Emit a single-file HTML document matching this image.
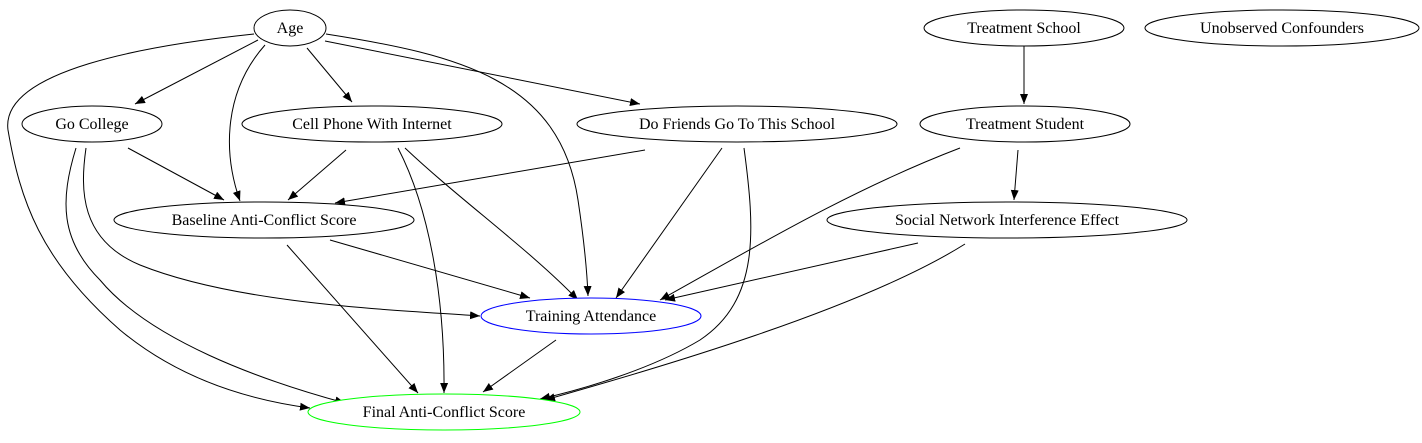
<!DOCTYPE html>
<html><head><meta charset="utf-8"><style>
html,body{margin:0;padding:0;background:#fff;}
svg{display:block;}
text{font-family:"Liberation Serif",serif;font-size:16px;text-anchor:middle;fill:#000;}
</style></head><body>
<svg width="1422" height="443" viewBox="0 0 1422 443" xmlns="http://www.w3.org/2000/svg">
<defs>
<marker id="a" markerUnits="userSpaceOnUse" markerWidth="12" markerHeight="10" refX="10" refY="4" orient="auto">
<path d="M0,0 L10,4 L0,8 Z" fill="#000"/>
</marker>
</defs>
<g fill="none" stroke="#000" stroke-width="1" marker-end="url(#a)">
<path d="M258,40 L135,104"/>
<path d="M307,48 L352,102"/>
<path d="M265,45 C225,90 222,150 240,201"/>
<path d="M325,41 L640,104"/>
<path d="M326,34 C460,55 560,80 578,200 C584,240 587,270 588,296"/>
<path d="M254,34 C150,45 0,70 8,130 C20,200 40,260 120,330 C180,380 250,400 310,408"/>
<path d="M1024,46 L1024,104"/>
<path d="M128,148 L224,200"/>
<path d="M86,148 C80,190 80,240 140,265 C240,305 400,310 480,316"/>
<path d="M76,148 C60,200 60,240 100,280 C150,340 260,380 345,403"/>
<path d="M346,150 L288,200"/>
<path d="M405,148 C460,200 530,250 578,300"/>
<path d="M398,148 C430,210 445,300 444,393"/>
<path d="M645,150 L335,203"/>
<path d="M722,148 L616,298"/>
<path d="M744,148 C755,230 760,300 700,340 C650,370 580,390 540,399"/>
<path d="M960,148 C850,190 750,250 660,300"/>
<path d="M1018,150 L1014,200"/>
<path d="M330,240 L530,298"/>
<path d="M287,245 L418,393"/>
<path d="M918,243 L665,300"/>
<path d="M965,244 C860,310 650,370 545,400"/>
<path d="M556,340 L483,392"/>
</g>
<g fill="#fff" stroke="#000" stroke-width="1">
<ellipse cx="290" cy="28" rx="36" ry="18"/>
<ellipse cx="1024" cy="28" rx="100" ry="18"/>
<ellipse cx="1282" cy="28" rx="137" ry="18"/>
<ellipse cx="92" cy="124" rx="70" ry="18"/>
<ellipse cx="372" cy="124" rx="130" ry="18"/>
<ellipse cx="737" cy="124" rx="160" ry="18"/>
<ellipse cx="1025" cy="124" rx="105" ry="18"/>
<ellipse cx="264" cy="220" rx="150" ry="18"/>
<ellipse cx="1007" cy="220" rx="180" ry="18"/>
<ellipse cx="591" cy="316" rx="110" ry="18" stroke="#00f"/>
<ellipse cx="444" cy="412" rx="136" ry="18" stroke="#0f0"/>
</g>
<text x="290" y="33">Age</text>
<text x="1024" y="33">Treatment School</text>
<text x="1282" y="33">Unobserved Confounders</text>
<text x="92" y="129">Go College</text>
<text x="372" y="129">Cell Phone With Internet</text>
<text x="737" y="129">Do Friends Go To This School</text>
<text x="1025" y="129">Treatment Student</text>
<text x="264" y="225">Baseline Anti-Conflict Score</text>
<text x="1007" y="225">Social Network Interference Effect</text>
<text x="591" y="321">Training Attendance</text>
<text x="444" y="417">Final Anti-Conflict Score</text>
</svg>
</body></html>
